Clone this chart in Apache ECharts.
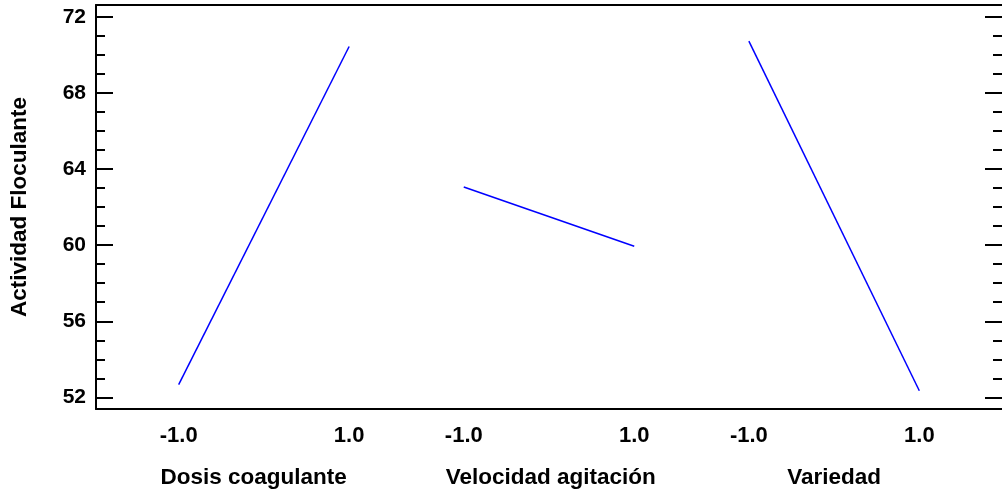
<!DOCTYPE html>
<html>
<head>
<meta charset="utf-8">
<script src="https://cdn.jsdelivr.net/npm/echarts@6/dist/echarts.min.js"></script>
<style>
html,body{margin:0;padding:0;background:#fff;}
#chart{width:1002px;height:492px;}
</style>
</head>
<body>
<div id="chart"></div>
<script>
// ---- data ----
const factors = ['Dosis coagulante', 'Velocidad agitación', 'Variedad'];
const levels = [-1, 1];
const levelLabels = ['-1.0', '1.0'];
const dosisValues = [52.67, 70.44];
const velocidadValues = [63.06, 59.94];
const variedadValues = [70.72, 52.35];
const yMajorTicks = [52, 56, 60, 64, 68, 72];
const yMinorTicks = [53, 54, 55, 57, 58, 59, 61, 62, 63, 65, 66, 67, 69, 70, 71];
const yAxisTitle = 'Actividad Floculante';

// ---- layout of factor panels along one shared x scale ----
const seriesValues = [dosisValues, velocidadValues, variedadValues];
const MARGIN = 0.97, GAP = 1.345, SPAN = 2;
const NAME_SHIFT = [-0.12, 0.02, 0]; // small layout nudges of the factor titles
const X_MAX = 2 * MARGIN + factors.length * SPAN + (factors.length - 1) * GAP;
function xPos(fi, level) { return MARGIN + fi * (SPAN + GAP) + (level + 1); }

const labelPositions = [];
const labelMap = {};
factors.forEach((f, fi) => {
  levels.forEach((lv, li) => {
    const p = +xPos(fi, lv).toFixed(4);
    labelPositions.push(p);
    labelMap[p] = levelLabels[li];
  });
});
const centerPositions = factors.map((f, fi) => +(xPos(fi, 0) + NAME_SHIFT[fi]).toFixed(4));
const centerMap = {};
centerPositions.forEach((p, i) => centerMap[p] = factors[i]);

const Y_MIN = 51.39, Y_MAX = 72.62;
const FONT = '"Liberation Sans", Arial, sans-serif';
const black = '#000';

function baseY(pos) {
  return {
    type: 'value', position: pos, min: Y_MIN, max: Y_MAX,
    splitLine: { show: false },
    axisLine: { show: false },
    axisLabel: { show: false },
    axisTick: { show: false }
  };
}
function tickAxis(pos, values, len) {
  const t = baseY(pos);
  t.axisTick = { show: true, inside: true, length: len, customValues: values, lineStyle: { color: black, width: 2 } };
  return t;
}
const yAxes = [];
// left axis: line, labels, title
let a = baseY('left');
a.axisLine = { show: true, lineStyle: { color: black, width: 2 } };
a.axisLabel = { show: true, customValues: yMajorTicks, margin: 10, color: black, fontSize: 21, fontWeight: 'bold', fontFamily: FONT };
a.name = yAxisTitle; a.nameLocation = 'middle'; a.nameGap = 65; a.nameRotate = 90;
a.nameTextStyle = { color: black, fontSize: 22.5, fontWeight: 'bold', fontFamily: FONT };
yAxes.push(a);
yAxes.push(tickAxis('left', yMajorTicks, 17));
yAxes.push(tickAxis('left', yMinorTicks, 9));
yAxes.push(tickAxis('right', yMajorTicks, 17));
yAxes.push(tickAxis('right', yMinorTicks, 9));

const xAxes = [
  {
    type: 'value', position: 'bottom', min: 0, max: X_MAX,
    splitLine: { show: false },
    axisLine: { show: true, onZero: false, lineStyle: { color: black, width: 2 } },
    axisTick: { show: false },
    axisLabel: {
      customValues: labelPositions, margin: 16, color: black, fontSize: 22, fontWeight: 'bold', fontFamily: FONT,
      formatter: v => labelMap[+(+v).toFixed(4)] || ''
    }
  },
  {
    type: 'value', position: 'bottom', min: 0, max: X_MAX,
    splitLine: { show: false },
    axisLine: { show: false, onZero: false },
    axisTick: { show: false },
    axisLabel: {
      customValues: centerPositions, margin: 57, color: black, fontSize: 22.5, fontWeight: 'bold', fontFamily: FONT,
      formatter: v => centerMap[+(+v).toFixed(4)] || ''
    }
  },
  {
    type: 'value', position: 'top', min: 0, max: X_MAX,
    splitLine: { show: false },
    axisLine: { show: true, onZero: false, lineStyle: { color: black, width: 2 } },
    axisTick: { show: false },
    axisLabel: { show: false }
  }
];

const series = factors.map((f, fi) => ({
  type: 'line',
  name: f,
  xAxisIndex: 0,
  yAxisIndex: 0,
  data: levels.map((lv, li) => [xPos(fi, lv), seriesValues[fi][li]]),
  symbol: 'none',
  lineStyle: { color: '#0000ff', width: 1.5 },
  silent: true,
  animation: false
}));

const chart = echarts.init(document.getElementById('chart'), null, { renderer: 'canvas' });
chart.setOption({
  backgroundColor: '#fff',
  animation: false,
  grid: { left: 94, top: 5, width: 913, height: 404, containLabel: false },
  xAxis: xAxes,
  yAxis: yAxes,
  series: series
});
</script>
</body>
</html>
